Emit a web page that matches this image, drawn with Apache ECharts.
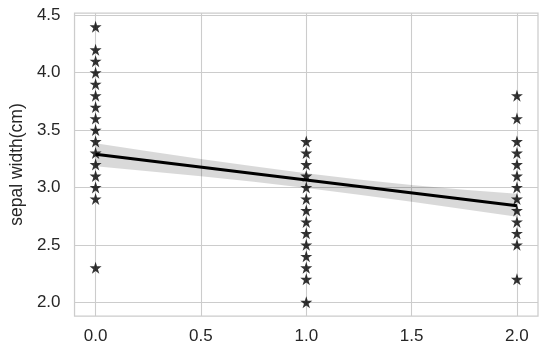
<!DOCTYPE html>
<html><head><meta charset="utf-8">
<script src="https://cdn.jsdelivr.net/npm/echarts@6/dist/echarts.min.js"></script>
<style>html,body{margin:0;padding:0;background:#fff}#c{width:548px;height:357px}</style>
</head><body><div id="c"></div>
<script>
// Data: iris sepal width (unique values visible) by target class
const cls0 = [2.3, 2.9, 3.0, 3.1, 3.2, 3.3, 3.4, 3.5, 3.6, 3.7, 3.8, 3.9, 4.0, 4.1, 4.2, 4.4];
const cls1 = [2.0, 2.2, 2.3, 2.4, 2.5, 2.6, 2.7, 2.8, 2.9, 3.0, 3.1, 3.2, 3.3, 3.4];
const cls2 = [2.2, 2.5, 2.6, 2.7, 2.8, 2.9, 3.0, 3.1, 3.2, 3.3, 3.4, 3.6, 3.8];
// Regression line endpoints
const fitX = [0, 2];
const fitY = [3.29, 2.84];
// Confidence band (estimated)
const bandX = [0, 0.25, 0.5, 0.75, 1, 1.25, 1.5, 1.75, 2];
const bandLo = [3.185, 3.142, 3.098, 3.050, 2.995, 2.937, 2.875, 2.810, 2.745];
const bandHi = [3.385, 3.315, 3.248, 3.184, 3.123, 3.070, 3.022, 2.980, 2.945];
const xTicks = [0, 0.5, 1, 1.5, 2];
const yTicks = [2.0, 2.5, 3.0, 3.5, 4.0, 4.5];

const star = 'path://M50,0 L61.2,34.5 L97.6,34.5 L68.2,55.9 L79.4,90.5 L50,69.1 L20.6,90.5 L31.8,55.9 L2.4,34.5 L38.8,34.5 Z';
const font = "'Liberation Sans', Arial, sans-serif";
const txt = '#262626';

function pts(x, arr){ return arr.map(v => [x, v]); }

const chart = echarts.init(document.getElementById('c'), null, {renderer:'canvas'});
const scatterStyle = {type:'scatter', symbol: star, symbolSize: 12, itemStyle:{color:'#000'}, silent:true};
chart.setOption({
  animation:false,
  backgroundColor:'#fff',
  grid:{left:73, right:10, top:13, bottom:41, show:true, borderColor:'#cccccc', borderWidth:1.25, containLabel:false},
  xAxis:{type:'value', min:-0.1, max:2.1,
    axisLine:{show:false}, axisTick:{show:false, customValues:xTicks},
    splitLine:{show:true, lineStyle:{color:'#cccccc', width:1.1}},
    axisLabel:{customValues:xTicks, formatter:v=>v.toFixed(1), color:txt, fontSize:17, fontFamily:font, margin:12}},
  yAxis:{type:'value', min:1.88, max:4.52,
    name:'sepal width(cm)', nameLocation:'middle', nameGap:40, nameRotate:90,
    nameTextStyle:{color:txt, fontSize:17.5, fontFamily:font},
    axisLine:{show:false}, axisTick:{show:false, customValues:yTicks},
    splitLine:{show:true, lineStyle:{color:'#cccccc', width:1.1}},
    axisLabel:{customValues:yTicks, formatter:v=>v.toFixed(1), color:txt, fontSize:17, fontFamily:font, margin:14}},
  series:[
    Object.assign({data:pts(0, cls0)}, scatterStyle),
    Object.assign({data:pts(1, cls1)}, scatterStyle),
    Object.assign({data:pts(2, cls2)}, scatterStyle),
    {type:'custom', silent:true, data:[0],
     renderItem:function(params, api){
       const p = [];
       for (let i=0;i<bandX.length;i++) p.push(api.coord([bandX[i], bandHi[i]]));
       for (let i=bandX.length-1;i>=0;i--) p.push(api.coord([bandX[i], bandLo[i]]));
       return {type:'polygon', shape:{points:p}, style:{fill:'rgba(0,0,0,0.15)'}};
     }},
    {type:'line', data:fitX.map((x,i)=>[x, fitY[i]]), symbol:'none', silent:true,
     lineStyle:{color:'#000', width:3}}
  ]
});
</script></body></html>
